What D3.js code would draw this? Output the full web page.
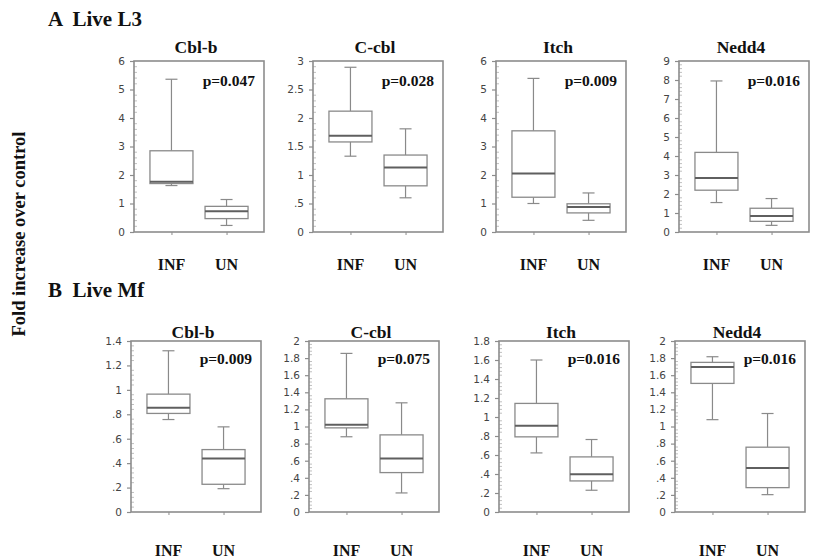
<!DOCTYPE html>
<html>
<head>
<meta charset="utf-8">
<script src="https://cdn.jsdelivr.net/npm/d3@7"></script>
<style>
  html, body { margin: 0; padding: 0; background: #fff; }
  svg { display: block; }
</style>
</head>
<body>
<svg id="chart" width="814" height="560"></svg>
<script>
// Ubiquitin ligase expression: fold increase over control, infected (INF) vs uninfected (UN)
const genes = ["Cbl-b", "C-cbl", "Itch", "Nedd4"];
const groups = ["INF", "UN"];
const rowTitles = ["A  Live L3", "B  Live Mf"];
const yLabel = "Fold increase over control";

// Row A: Live L3 — y-axis maxima, ticks, p-values and box statistics [min, q1, median, q3, max]
const l3Max = [6, 3, 6, 9];
const l3Ticks = [
  [0, 1, 2, 3, 4, 5, 6],
  [0, 0.5, 1, 1.5, 2, 2.5, 3],
  [0, 1, 2, 3, 4, 5, 6],
  [0, 1, 2, 3, 4, 5, 6, 7, 8, 9]
];
const l3P = ["p=0.047", "p=0.028", "p=0.009", "p=0.016"];
const l3INF = [
  [1.63, 1.70, 1.76, 2.85, 5.36],
  [1.33, 1.58, 1.69, 2.12, 2.89],
  [1.00, 1.22, 2.05, 3.55, 5.39],
  [1.55, 2.20, 2.84, 4.19, 7.95]
];
const l3UN = [
  [0.23, 0.47, 0.73, 0.90, 1.14],
  [0.60, 0.81, 1.13, 1.35, 1.81],
  [0.41, 0.67, 0.88, 0.99, 1.37],
  [0.35, 0.56, 0.84, 1.25, 1.76]
];

// Row B: Live Mf
const mfMax = [1.4, 2, 1.8, 2];
const mfTicks = [
  [0, 0.2, 0.4, 0.6, 0.8, 1, 1.2, 1.4],
  [0, 0.2, 0.4, 0.6, 0.8, 1, 1.2, 1.4, 1.6, 1.8, 2],
  [0, 0.2, 0.4, 0.6, 0.8, 1, 1.2, 1.4, 1.6, 1.8],
  [0, 0.2, 0.4, 0.6, 0.8, 1, 1.2, 1.4, 1.6, 1.8, 2]
];
const mfP = ["p=0.009", "p=0.075", "p=0.016", "p=0.016"];
const mfINF = [
  [0.757, 0.807, 0.853, 0.965, 1.32],
  [0.88, 0.984, 1.02, 1.324, 1.855],
  [0.622, 0.791, 0.907, 1.143, 1.60],
  [1.08, 1.504, 1.695, 1.75, 1.816]
];
const mfUN = [
  [0.191, 0.227, 0.438, 0.511, 0.697],
  [0.223, 0.461, 0.625, 0.902, 1.277],
  [0.229, 0.327, 0.397, 0.580, 0.763],
  [0.203, 0.285, 0.516, 0.758, 1.152]
];

const rows = [
  { title: rowTitles[0], max: l3Max, ticks: l3Ticks, p: l3P, inf: l3INF, un: l3UN,
    top: 61, bottom: 232, lefts: [134, 313, 496, 679], titleY: 26, geneY: 53, pY: 86, grpY: 270 },
  { title: rowTitles[1], max: mfMax, ticks: mfTicks, p: mfP, inf: mfINF, un: mfUN,
    top: 341, bottom: 512, lefts: [131, 309, 499, 675], titleY: 297, geneY: 338, pY: 364, grpY: 556 }
];

const panelW = 130;
const serif = "'Liberation Serif', 'Times New Roman', serif";
const sans = "'DejaVu Sans', Verdana, sans-serif";
const frameColor = "#8c8c8c";
const boxColor = "#8a8a8a";
const medColor = "#5f5f5f";

const svg = d3.select("#chart");

// Shared vertical axis title
svg.append("text")
  .attr("transform", "translate(25,234) rotate(-90)")
  .attr("text-anchor", "middle")
  .attr("font-family", serif)
  .attr("font-weight", "bold")
  .attr("font-size", 18.5)
  .attr("fill", "#111")
  .text(yLabel);

const tickFmt = v => v === 0 ? "0" : (v < 1 ? String(v).replace(/^0/, "") : String(v));

rows.forEach(row => {
  svg.append("text")
    .attr("x", 48).attr("y", row.titleY)
    .attr("font-family", serif).attr("font-weight", "bold")
    .attr("font-size", 21).attr("fill", "#111")
    .attr("xml:space", "preserve")
    .text(row.title);

  genes.forEach((gene, i) => {
    const x0 = row.lefts[i];
    const g = svg.append("g").attr("transform", `translate(${x0},0)`);

    const y = d3.scaleLinear().domain([0, row.max[i]]).range([row.bottom, row.top]);
    const x = d3.scalePoint().domain(groups).range([0, panelW]).padding(0.68);

    // Minor ticks inside the frame
    const ticks = row.ticks[i];
    const step = ticks[1] - ticks[0];
    const minor = [];
    for (let k = 0; k < ticks.length - 1; k++) {
      for (let m = 1; m < 5; m++) minor.push(ticks[k] + step * m / 5);
    }
    g.selectAll("line.minor").data(minor).join("line")
      .attr("class", "minor")
      .attr("x1", 0).attr("x2", 3)
      .attr("y1", d => y(d)).attr("y2", d => y(d))
      .attr("stroke", "#b0b0b0").attr("stroke-width", 0.8);

    // Y axis
    const yAxis = d3.axisLeft(y).tickValues(ticks).tickFormat(tickFmt)
      .tickSize(4).tickPadding(5).tickSizeOuter(0);
    const ya = g.append("g").call(yAxis);
    ya.select(".domain").remove();
    ya.selectAll(".tick line").attr("stroke", frameColor).attr("stroke-width", 1.2);
    ya.selectAll(".tick text")
      .attr("font-family", sans).attr("font-size", 10.5)
      .attr("fill", "#444");

    // X axis ticks (category positions, no labels)
    const xAxis = d3.axisBottom(x).tickSize(3).tickFormat("").tickSizeOuter(0);
    const xa = g.append("g").attr("transform", `translate(0,${row.bottom})`).call(xAxis);
    xa.select(".domain").remove();
    xa.selectAll(".tick line").attr("stroke", frameColor).attr("stroke-width", 1);

    // Frame
    g.append("rect")
      .attr("x", 0).attr("y", row.top)
      .attr("width", panelW).attr("height", row.bottom - row.top)
      .attr("fill", "none").attr("stroke", frameColor).attr("stroke-width", 1.6);

    // Boxplots
    const boxW = 43, capW = 12;
    const stats = [row.inf[i], row.un[i]];
    stats.forEach((s, j) => {
      const cx = x(groups[j]);
      const [mn, q1, md, q3, mx] = s;
      const b = g.append("g");
      // whiskers
      b.append("line").attr("x1", cx).attr("x2", cx).attr("y1", y(q3)).attr("y2", y(mx))
        .attr("stroke", boxColor).attr("stroke-width", 1.2);
      b.append("line").attr("x1", cx).attr("x2", cx).attr("y1", y(q1)).attr("y2", y(mn))
        .attr("stroke", boxColor).attr("stroke-width", 1.2);
      // caps
      [mn, mx].forEach(v => {
        b.append("line").attr("x1", cx - capW / 2).attr("x2", cx + capW / 2)
          .attr("y1", y(v)).attr("y2", y(v))
          .attr("stroke", boxColor).attr("stroke-width", 1.2);
      });
      // box
      b.append("rect")
        .attr("x", cx - boxW / 2).attr("y", y(q3))
        .attr("width", boxW).attr("height", y(q1) - y(q3))
        .attr("fill", "#fff").attr("stroke", boxColor).attr("stroke-width", 1.3);
      // median
      b.append("line").attr("x1", cx - boxW / 2).attr("x2", cx + boxW / 2)
        .attr("y1", y(md)).attr("y2", y(md))
        .attr("stroke", medColor).attr("stroke-width", 2);
    });

    // Gene title
    g.append("text")
      .attr("x", panelW / 2 - 3).attr("y", row.geneY)
      .attr("text-anchor", "middle")
      .attr("font-family", serif).attr("font-weight", "bold")
      .attr("font-size", 17.5).attr("fill", "#111")
      .text(gene);

    // p-value
    g.append("text")
      .attr("x", panelW - 9).attr("y", row.pY)
      .attr("text-anchor", "end")
      .attr("font-family", serif).attr("font-weight", "bold")
      .attr("font-size", 15.5).attr("fill", "#111")
      .text(row.p[i]);

    // Group labels
    g.selectAll("text.grp").data(groups).join("text")
      .attr("class", "grp")
      .attr("x", d => x(d)).attr("y", row.grpY)
      .attr("text-anchor", "middle")
      .attr("font-family", serif).attr("font-weight", "bold")
      .attr("font-size", 16).attr("fill", "#111")
      .text(d => d);
  });
});
</script>
</body>
</html>
